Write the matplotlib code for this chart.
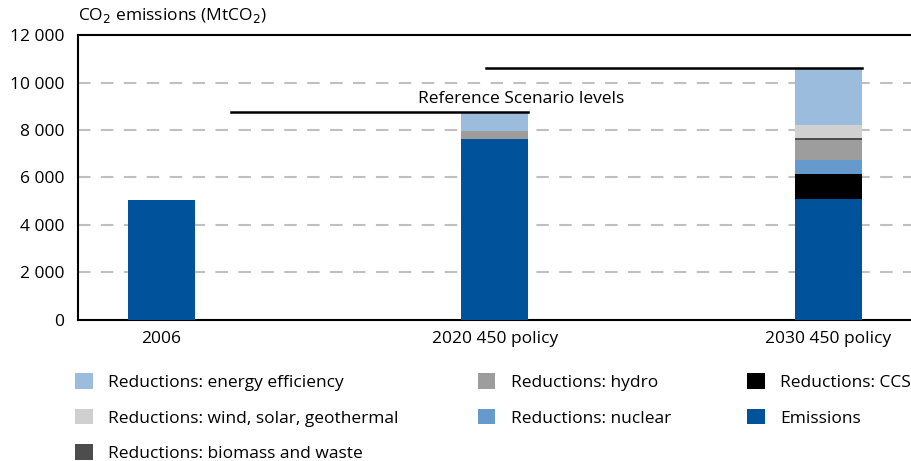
import matplotlib.pyplot as plt
from matplotlib.patches import Patch
import numpy as np

plt.rcParams['font.family'] = ['Open Sans', 'DejaVu Sans']

# data
categories = ['2006', '2020 450 policy', '2030 450 policy']
emissions = [5050, 7600, 5100]
ccs = [0, 0, 1060]
nuclear = [0, 0, 560]
hydro = [0, 370, 860]
biomass = [0, 0, 70]
wind = [0, 0, 560]
efficiency = [0, 780, 2360]
ref_2020 = 8750
ref_2030 = 10600

series = [
    ('Emissions', emissions, '#00539b'),
    ('Reductions: CCS', ccs, '#000000'),
    ('Reductions: nuclear', nuclear, '#6699cc'),
    ('Reductions: hydro', hydro, '#9d9d9d'),
    ('Reductions: biomass and waste', biomass, '#4d4d4d'),
    ('Reductions: wind, solar, geothermal', wind, '#d0d0d0'),
    ('Reductions: energy efficiency', efficiency, '#9bbcdc'),
]

fig = plt.figure(figsize=(9.12, 4.61), dpi=100)
ax = fig.add_axes([0.0855, 0.306, 0.914, 0.618])

x = np.arange(len(categories))
bottom = np.zeros(len(categories))
colors = {}
for name, vals, col in series:
    ax.bar(x, vals, 0.2, bottom=bottom, color=col, zorder=3)
    bottom += np.array(vals)
    colors[name] = col

# reference scenario lines
ax.plot([0.21, 1.1], [ref_2020, ref_2020], color='black', lw=1.8, zorder=4)
ax.plot([0.975, 2.1], [ref_2030, ref_2030], color='black', lw=1.8, zorder=4)
ax.text(1.08, 9300, 'Reference Scenario levels', ha='center', va='center', fontsize=12.5)

ax.set_xlim(-0.25, 2.25)
ax.set_ylim(0, 12000)
ax.set_yticks(np.arange(0, 12001, 2000))
ax.set_yticklabels(['0', '2 000', '4 000', '6 000', '8 000', '10 000', '12 000'])
ax.set_xticks(x)
ax.set_xticklabels(categories)
ax.tick_params(length=0, labelsize=12.5, pad=8)
ax.tick_params(axis='y', pad=10)
for t in range(2000, 12000, 2000):
    ax.axhline(t, color='#c0c0c0', lw=1.5, ls=(0, (6, 5)), zorder=1)
ax.spines['right'].set_visible(False)
for s in ['left', 'top', 'bottom']:
    ax.spines[s].set_linewidth(1.5)

fig.text(0.0855, 0.945, 'CO$_2$ emissions (MtCO$_2$)', fontsize=12.5, va='bottom')

# legend in three columns
cols = [
    (0.075, ['Reductions: energy efficiency', 'Reductions: wind, solar, geothermal',
             'Reductions: biomass and waste']),
    (0.516, ['Reductions: hydro', 'Reductions: nuclear']),
    (0.812, ['Reductions: CCS', 'Emissions']),
]
for xpos, names in cols:
    handles = [Patch(facecolor=colors[n], edgecolor='none') for n in names]
    fig.legend(handles, names, loc='upper left', bbox_to_anchor=(xpos, 0.205),
               frameon=False, fontsize=12.5, handlelength=1.0, handleheight=1.0,
               handletextpad=0.9, labelspacing=1.02, borderaxespad=0)

fig.savefig('out.png', dpi=100)
